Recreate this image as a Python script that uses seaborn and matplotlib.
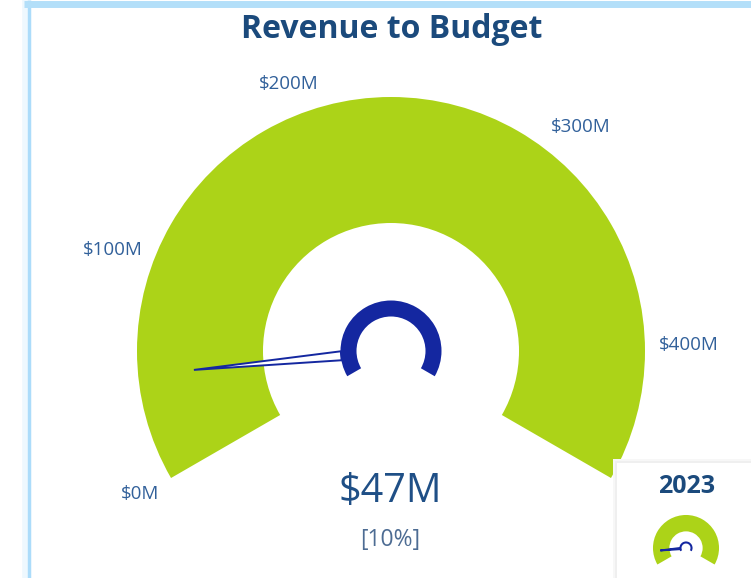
import numpy as np
import matplotlib
matplotlib.use("Agg")
import matplotlib.pyplot as plt
from matplotlib.patches import Wedge, Polygon, Rectangle
import seaborn as sns

# data
title = "Revenue to Budget"
revenue = 47          # $M
gauge_max = 460       # $M, end of the scale
tick_values = [0, 100, 200, 300, 400]
tick_labels = ["$0M", "$100M", "$200M", "$300M", "$400M"]
value_label = "$47M"
pct_label = "[10%]"
year_label = "2023"

sns.set_theme(style="white")
plt.rcParams['font.family'] = ['Open Sans', 'DejaVu Sans']

GREEN = "#acd318"
NAVY = "#1427a0"
TITLE_C = "#1b4a7c"
LABEL_C = "#31609a"

W, H = 751, 578


def py(y):
    # pixel row -> data y
    return H - y


def val_angle(v):
    return 210 - 240 * v / gauge_max


def draw_gauge(ax, cx, cy, s, value, needle_lw=1.4):
    ax.add_patch(Wedge((cx, cy), 254 * s, -30, 210, width=126 * s,
                       facecolor=GREEN, edgecolor="none"))
    th = np.radians(val_angle(value))
    d = np.array([np.cos(th), np.sin(th)])
    n = np.array([-d[1], d[0]])
    c = np.array([cx, cy])
    tip = c + 198 * s * d
    base = c + 50 * s * d
    hw = 4.5 * s
    ax.add_patch(Polygon([tip, base + hw * n, base - hw * n], closed=True,
                         facecolor="white", edgecolor=NAVY, lw=needle_lw,
                         joinstyle="miter"))
    ax.add_patch(Wedge((cx, cy), 50.5 * s, -30, 210, width=16 * s,
                       facecolor=NAVY, edgecolor="none"))


fig = plt.figure(figsize=(7.51, 5.78), dpi=100)
ax = fig.add_axes([0, 0, 1, 1])
ax.set_xlim(0, W)
ax.set_ylim(0, H)
ax.axis("off")

# card border
ax.plot([25, 25], [py(0), -10], color="#eef8fe", lw=4, solid_capstyle="butt")
ax.plot([28.5, 28.5], [py(0), -10], color="#acdcfa", lw=2.5, solid_capstyle="butt")
ax.plot([24, W + 10], [py(3.5), py(3.5)], color="#b3dff9", lw=5, solid_capstyle="butt")

# main gauge
cx, cy = 391, py(351)
draw_gauge(ax, cx, cy, 1.0, revenue)

for v, lab in zip(tick_values, tick_labels):
    th = np.radians(val_angle(v))
    x = cx + 268 * np.cos(th)
    y = cy + 268 * np.sin(th)
    ha = "left" if np.cos(th) > 0 else "right"
    sn = np.sin(th)
    va = "bottom" if sn > 0.5 else ("top" if sn < -0.3 else "center")
    ax.text(x, y, lab, ha=ha, va=va, fontsize=13.5, color=LABEL_C)

ax.text(392, py(38), title, ha="center", va="baseline", fontsize=23,
        fontweight="bold", color=TITLE_C)
ax.text(390, py(502), value_label, ha="center", va="baseline", fontsize=28.5,
        color="#1f4f86")
ax.text(390, py(540), pct_label, ha="center", va="center", fontsize=16.5,
        color="#4d6c93")

# small card with the 2023 gauge
ax.add_patch(Rectangle((613, -20), 200, py(459) + 20, facecolor="#f7f7f7",
                       edgecolor="none"))
ax.add_patch(Rectangle((615, -20), 200, py(461) + 20, facecolor="#efefef",
                       edgecolor="none"))
ax.add_patch(Rectangle((617, -20), 200, py(463) + 20, facecolor="white",
                       edgecolor="none"))
ax.text(687, py(493), year_label, ha="center", va="baseline", fontsize=18,
        fontweight="bold", color=TITLE_C)
draw_gauge(ax, 686, py(548), 0.13, revenue, needle_lw=1.4)

fig.savefig("out.png", dpi=100)
